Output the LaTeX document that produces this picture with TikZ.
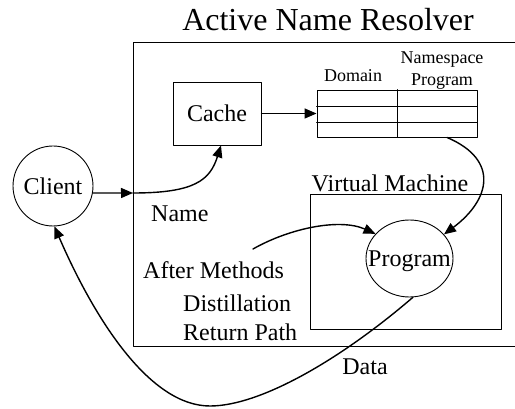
\documentclass[tikz,border=0pt]{standalone}
\usepackage{fontspec}
\setmainfont{Liberation Serif}
\usetikzlibrary{arrows.meta}
\usetikzlibrary{shapes.geometric}
\begin{document}
\begin{tikzpicture}[line cap=round,line join=round,>={Triangle[length=12pt,width=10pt]},x=1pt,y=-1pt,
  lbl/.style={font=\fontsize{24}{28}\selectfont,inner sep=0pt},
  tag/.style={font=\fontsize{18}{22}\selectfont,inner sep=0pt,align=center},
  box/.style={draw,line width=0.9pt,inner sep=0pt},
  flow/.style={->,line width=1.4pt}]
\useasboundingbox (0,0) rectangle (515,409);
\node [font=\fontsize{32}{36}\selectfont,inner sep=0pt] (title) at (328,20) {Active Name Resolver};
\draw[line width=0.9pt] (516,42)--(133,42)--(133,346)--(516,346);
\node [box,lbl,minimum width=88,minimum height=63] (cache) at (217,113.5) {Cache};
% table of namespace programs
\node [box,minimum width=160,minimum height=47] (table) at (397,113.5) {};
\draw[line width=0.9pt] (table.north)--(table.south);
\foreach \r in {106,122}
  \draw[line width=0.9pt] (table.west |- 0,\r)--(table.east |- 0,\r);
\node [tag] (domain) at (353,76) {Domain};
\node [tag] (nsprog) at (442,71) {Namespace\\Program};
\node [box,lbl,circle,minimum size=80] (client) at (53,186) {Client};
\node [box,lbl,minimum width=191,minimum height=135] (vm) at (405.5,261.5) {};
\node [lbl] (vmlabel) at (390,183) {Virtual Machine};
\node [box,ellipse,minimum width=87,minimum height=77] (program) at (409.5,258.5) {};
\node [lbl,anchor=base] at (409.5,267) {Program};
\coordinate (entry) at (133,193);
\coordinate (after) at (253,249);
\draw[flow] (client.-10)--(entry);
\draw[flow] (entry) .. controls (195,193) and (210,180) .. ([xshift=4pt]cache.south);
\draw[flow] (cache.east)--(table.west);
\draw[flow] ([xshift=50pt]table.south) .. controls (500,160) and (490,200) .. (program.35);
\draw[flow] (after) .. controls (290,228) and (340,218) .. (program.144);
\draw[flow] (program.-85) .. controls (340,360) and (260,406) .. (210,406)
  .. controls (150,406) and (95,320) .. (client.-88);
\node [lbl,anchor=west] (name) at (151,214) {Name};
\node [lbl,anchor=west] (methods) at (143,270) {After Methods};
\node [lbl,anchor=west] (distil) at (183,303) {Distillation};
\node [lbl,anchor=west] (retpath) at (183,332) {Return Path};
\node [lbl] (data) at (365,367) {Data};
\end{tikzpicture}
\end{document}
